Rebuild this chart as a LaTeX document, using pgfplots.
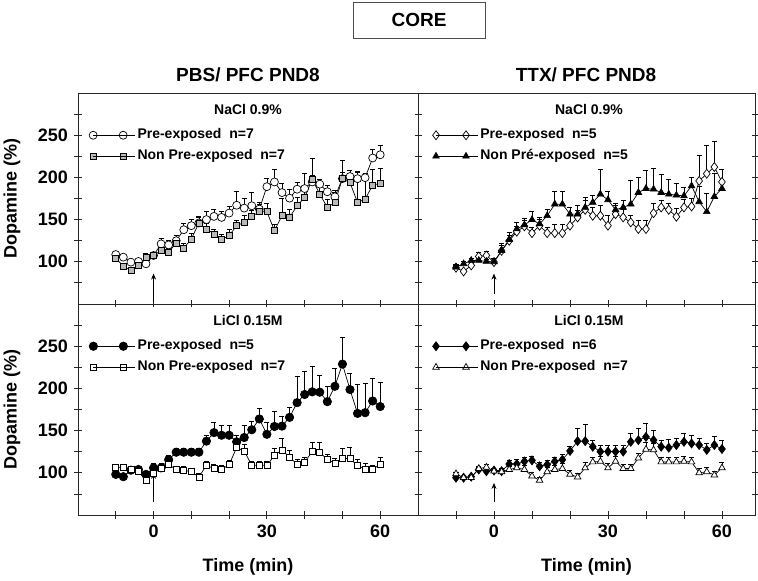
\documentclass[border=0pt]{standalone}
\usepackage{pgfplots}
\pgfplotsset{compat=1.18}
\usepackage{pgfplotstable}
\usepackage{fontspec}
\setmainfont{Liberation Sans}
\usetikzlibrary{arrows.meta}

\pgfplotstableread{
t y e
-10 108.6 4
-8 105.5 3
-6 99.6 3
-4 100.4 3
-2 97.6 3
0 107.5 4
2 121.2 7
4 120 6
6 125 6
8 138 8
10 142.8 8
12 146 7
14 150 10
16 153.8 8
18 152.6 7
20 157.7 8
22 167 16
24 163.6 12
26 166.4 16
28 162.4 8
30 189 10
32 194.6 15
34 182 11
36 175.4 10
38 186 8
40 186.8 18
42 194.6 8
44 192 6
46 183 7
48 177 8
50 198.5 7
52 201 7
54 198.5 8
56 199.7 5
58 223 10
60 226.8 11
}\TLpre

\pgfplotstableread{
t y e
-10 104.3 4
-8 94.9 3
-6 89.8 3
-4 95.7 3
-2 105.5 4
0 107.5 4
2 113.3 5
4 111.4 5
6 122.4 6
8 116.1 6
10 127.1 7
12 145.9 8
14 138.9 7
16 133 6
18 126.3 6
20 131 7
22 142.8 6
24 146.7 8
26 153.8 7
28 159.3 9
30 159.3 10
32 136.9 8
34 154.6 20
36 152.6 10
38 166.4 10
40 176.2 12
42 197.8 25
44 180.1 10
46 164.4 10
48 170.3 12
50 198.5 22
52 193.8 10
54 170.3 37
56 174.2 25
58 190.7 19
60 193 18
}\TLnon

\pgfplotstableread{
t y e
-10 93 3
-8 88.6 3
-6 95.7 4
-4 106.3 5
-2 107.5 5
0 99.6 5
2 113 6
4 125 6
6 135.7 6
8 142 7
10 134 7
12 142.8 8
14 134 7
16 134 10
18 134 10
20 142.8 12
22 152.6 8
24 161.6 15
26 154.6 10
28 154.6 12
30 142.8 12
32 156.5 10
34 152.6 10
36 146.7 8
38 138.9 10
40 138.9 10
42 157.7 12
44 164.4 8
46 161.6 8
48 153.4 10
50 164.4 10
52 165.6 10
54 195.8 30
56 204.4 33
58 212.3 30
60 194.6 15
}\TRpre

\pgfplotstableread{
t y e
-10 93.7 3
-8 97.6 3
-6 101.6 3
-4 101.6 3
-2 100.4 3
0 100 4
2 113.3 8
4 126.3 8
6 138.9 8
8 143.6 8
10 149.9 10
12 144.8 8
14 154.6 8
16 168.3 15
18 168.3 15
20 156.5 8
22 156.5 10
24 164.4 8
26 170.3 8
28 180.1 30
30 173.4 10
32 161.6 8
34 164.4 8
36 168.3 28
38 182.1 18
40 186.8 22
42 186 25
44 182.1 22
46 180.1 18
48 178.9 14
50 178.1 10
52 189.9 10
54 171.1 18
56 159.3 22
58 177.3 28
60 186.8 10
}\TRnon

\pgfplotstableread{
t y e
-10 98.1 4
-8 95.4 3
-6 103.1 3
-4 103.9 3
-2 98.1 4
0 105.8 5
2 105.8 5
4 115.5 5
6 124.4 5
8 124.4 5
10 124.4 5
12 124.4 5
14 137.5 7
16 147.6 12
18 144.5 12
20 144.5 12
22 136.7 8
24 141.8 14
26 151 10
28 163.8 12
30 145.6 14
32 154.9 18
34 155.3 12
36 165.7 12
38 183.1 31
40 192.8 27
42 195.9 30
44 195.5 20
46 184.3 18
48 202.5 21
50 228.8 32
52 198.6 19
54 170.4 34
56 171.2 35
58 185.1 27
60 178.5 29
}\BLpre

\pgfplotstableread{
t y e
-10 106.6 3
-8 106.6 3
-6 103.9 3
-4 101.2 3
-2 91.1 4
0 98.8 4
2 105.8 4
4 109.7 5
6 103.9 4
8 103.1 4
10 101.2 4
12 95 4
14 108.9 5
16 105 5
18 103.9 5
20 109.7 5
22 129.8 10
24 125.9 8
26 108.9 5
28 108.9 5
30 108.9 5
32 120.5 9
34 127.1 14
36 118.2 8
38 110.4 6
40 112.8 6
42 125.1 11
44 124.4 12
46 115.5 6
48 111.6 6
50 117.4 12
52 116.6 13
54 108.5 8
56 104.6 7
58 103.9 5
60 110.4 8
}\BLnon

\pgfplotstableread{
t y e
-10 94.2 2
-8 94.2 2
-6 95.4 2
-4 103.9 3
-2 101.9 3
0 102.7 3
2 101.9 3
4 110.4 4
6 110.4 5
8 113.5 5
10 114.7 5
12 107.7 5
14 109.7 5
16 113.5 5
18 115.5 6
20 125.9 6
22 137.5 15
24 137.5 20
26 130.9 8
28 125.1 8
30 125.1 8
32 125.1 8
34 125.1 8
36 136.7 10
38 138.7 14
40 142.5 16
42 138.7 12
44 130.9 8
46 129.8 10
48 132.9 8
50 136.7 10
52 134.8 10
54 132.9 8
56 127.1 8
58 132.9 10
60 128.2 10
}\BRpre

\pgfplotstableread{
t y e
-10 98.8 2
-8 94.2 2
-6 94.2 2
-4 105 3
-2 106.6 3
0 101.9 3
2 101.2 3
4 103.9 4
6 105.8 5
8 103.9 5
10 96.1 5
12 91.1 4
14 101.2 5
16 103.9 5
18 105 6
20 98.1 5
22 95 4
24 105.8 6
26 112.8 6
28 113.5 6
30 105.8 5
32 113.5 6
34 105 5
36 105 5
38 117.4 6
40 127.8 8
42 127.1 8
44 112.8 6
46 112.8 6
48 112.8 6
50 113.5 6
52 112.8 6
54 100 5
56 101.2 5
58 97.3 5
60 105.8 6
}\BRnon

\pgfplotsset{
  panel/.style={
    scale only axis, height=211bp,
    ymin=50, ymax=300, xmin=-20,
    axis line style={line width=0.9bp, black!85},
    tick align=center, major tick length=7bp, minor tick length=7bp,
    every tick/.style={line width=0.8bp, black!85},
    xtick={0,30,60}, minor xtick={-10,10,20,40,50},
    ytick={100,150,200,250}, minor ytick={75,125,175,225,275},
    xtick pos=bottom,
    /pgf/number format/assume math mode=true,
    ticklabel style={font=\fontsize{18bp}{20bp}\selectfont\bfseries},
    xticklabel style={yshift=-3bp},
    yticklabel style={xshift=-3bp},
    every axis y label/.style={at={(axis description cs:-0.194,0.5)}, rotate=90, anchor=center,
      font=\fontsize{18bp}{20bp}\selectfont\bfseries},
    every axis x label/.style={at={(axis description cs:0.5,-0.246)}, anchor=center,
      font=\fontsize{18bp}{20bp}\selectfont\bfseries},
    legend image code/.code={\draw[##1] plot coordinates {(0bp,0bp)(30bp,0bp)};
      \path (0bp,0bp) -- (42bp,0bp);},
    legend cell align=left,
    legend style={draw=none, fill=none, inner sep=0pt, row sep=4bp, column sep=0bp,
      font=\fontsize{14bp}{16bp}\selectfont\bfseries,
      nodes={text height=10bp, text depth=3bp, inner sep=2bp},
      anchor=west},
    every axis plot/.append style={line width=0.7bp, black},
    error bars/y dir=plus, error bars/y explicit,
    error bars/error bar style={line width=0.7bp, black},
    error bars/error mark options={line width=0.7bp, black, mark size=2.5bp, rotate=90},
  },
  panelL/.style={panel, width=340bp, xmax=70, ytick pos=left, ylabel={Dopamine (\%)}},
  panelR/.style={panel, width=337bp, xmax=68.7, ytick pos=both, yticklabels={}},
}

\newcommand{\ptitle}[1]{\node[font=\fontsize{14bp}{16bp}\selectfont\bfseries] at (axis cs:25,281) {#1};}

\begin{document}
\begin{tikzpicture}
\useasboundingbox (0,0) rectangle (758bp,581bp);

\node[draw=black!70, line width=0.8bp, minimum width=132bp, minimum height=36bp,
  font=\fontsize{19bp}{21bp}\selectfont\bfseries] at (419bp,561bp) {CORE};
\node[font=\fontsize{19bp}{21bp}\selectfont\bfseries] at (248bp,506bp) {PBS/ PFC PND8};
\node[font=\fontsize{19bp}{21bp}\selectfont\bfseries] at (586bp,506bp) {TTX/ PFC PND8};

% top-left
\begin{axis}[panelL, at={(78bp,277bp)}, anchor=south west, xticklabels={},
  legend style={at={(axis cs:-17.1,237.5)}}]
\addplot[mark=*, mark size=4bp, mark options={fill=white, solid}] table[x=t,y=y,y error=e] {\TLpre};
\addlegendentry{Pre-exposed\ \ n=7}
\addplot[mark=square*, mark size=3bp, mark options={fill=gray!55, solid}] table[x=t,y=y,y error=e] {\TLnon};
\addlegendentry{Non Pre-exposed\ \ n=7}
\ptitle{NaCl 0.9\%}
\draw[-{Stealth[length=6bp,width=5bp]}, line width=0.8bp] (axis cs:0,52) -- (axis cs:0,86);
\end{axis}

% top-right
\begin{axis}[panelR, at={(418bp,277bp)}, anchor=south west, xticklabels={},
  legend style={at={(axis cs:-16.2,237.5)}}]
\addplot[mark=diamond*, mark size=4.5bp, mark options={fill=white, solid}] table[x=t,y=y,y error=e] {\TRpre};
\addlegendentry{Pre-exposed\ \ n=5}
\addplot[mark=triangle*, mark size=3.8bp, mark options={fill=black, solid}] table[x=t,y=y,y error=e] {\TRnon};
\addlegendentry{Non Pré-exposed\ \ n=5}
\ptitle{NaCl 0.9\%}
\draw[-{Stealth[length=6bp,width=5bp]}, line width=0.8bp] (axis cs:0,62) -- (axis cs:0,86);
\end{axis}

% bottom-left
\begin{axis}[panelL, at={(78bp,66bp)}, anchor=south west, xlabel={Time (min)},
  legend style={at={(axis cs:-17.1,237.5)}}]
\addplot[mark=*, mark size=4.2bp, mark options={fill=black, solid}] table[x=t,y=y,y error=e] {\BLpre};
\addlegendentry{Pre-exposed\ \ n=5}
\addplot[mark=square*, mark size=3bp, mark options={fill=white, solid}] table[x=t,y=y,y error=e] {\BLnon};
\addlegendentry{Non Pre-exposed\ \ n=7}
\ptitle{LiCl 0.15M}
\draw[-{Stealth[length=6bp,width=5bp]}, line width=0.8bp] (axis cs:0,65) -- (axis cs:0,100);
\end{axis}

% bottom-right
\begin{axis}[panelR, at={(418bp,66bp)}, anchor=south west, xlabel={Time (min)},
  legend style={at={(axis cs:-16.2,237.5)}}]
\addplot[mark=diamond*, mark size=4.5bp, mark options={fill=black, solid}] table[x=t,y=y,y error=e] {\BRpre};
\addlegendentry{Pre-exposed\ \ n=6}
\addplot[mark=triangle*, mark size=3.8bp, mark options={fill=white, solid}] table[x=t,y=y,y error=e] {\BRnon};
\addlegendentry{Non Pre-exposed\ \ n=7}
\ptitle{LiCl 0.15M}
\draw[-{Stealth[length=6bp,width=5bp]}, line width=0.8bp] (axis cs:0,65) -- (axis cs:0,88);
\end{axis}
\end{tikzpicture}
\end{document}
